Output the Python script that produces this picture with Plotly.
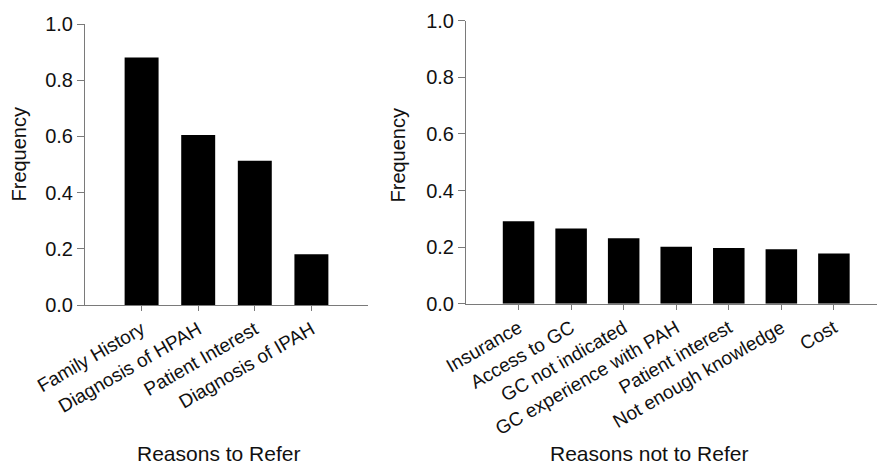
import plotly.graph_objects as go
from plotly.subplots import make_subplots

# Survey results: how often each reason was chosen
refer_reasons = ["Family History", "Diagnosis of HPAH", "Patient Interest", "Diagnosis of IPAH"]
refer_freq = [0.881, 0.605, 0.513, 0.181]

no_refer_reasons = ["Insurance", "Access to GC", "GC not indicated", "GC experience with PAH",
                    "Patient interest", "Not enough knowledge", "Cost"]
no_refer_freq = [0.291, 0.266, 0.231, 0.201, 0.197, 0.192, 0.177]

y_ticks = [0.0, 0.2, 0.4, 0.6, 0.8, 1.0]
y_ticktext = ["0.0", "0.2", "0.4", "0.6", "0.8", "1.0"]

FONT = "Liberation Sans, Arial, sans-serif"
TEXT = "#111111"
AXIS = "#7a7a7a"
W, H = 877, 467

fig = make_subplots(rows=1, cols=2)

fig.add_trace(go.Bar(x=refer_reasons, y=refer_freq, width=0.6,
                     marker=dict(color="black", line=dict(width=0))), row=1, col=1)
fig.add_trace(go.Bar(x=no_refer_reasons, y=no_refer_freq, width=0.6,
                     marker=dict(color="black", line=dict(width=0))), row=1, col=2)

common_x = dict(showline=True, linecolor=AXIS, linewidth=1, ticks="outside", ticklen=5,
                tickcolor=AXIS, tickangle=-30, showgrid=False, zeroline=False,
                automargin=False,
                tickfont=dict(family=FONT, size=19, color=TEXT))
common_y = dict(showline=True, linecolor=AXIS, linewidth=1, ticks="outside", ticklen=7,
                tickcolor=AXIS, showgrid=False, zeroline=False, range=[0, 1],
                automargin=False,
                tickvals=y_ticks, ticktext=y_ticktext,
                tickfont=dict(family=FONT, size=20, color=TEXT))

fig.update_xaxes(common_x, row=1, col=1, range=[-1, 4],
                 domain=[85 / W, 368 / W])
fig.update_xaxes(common_x, row=1, col=2, range=[-1, 6.82],
                 domain=[466 / W, 1.0])
fig.update_yaxes(common_y, row=1, col=1, domain=[1 - 305 / H, 1 - 24 / H])
fig.update_yaxes(common_y, row=1, col=2, domain=[1 - 303.7 / H, 1 - 20.7 / H])

# Vertical "Frequency" titles beside each value axis
for cx, cy in [(18.5, 154), (397.5, 155)]:
    fig.add_annotation(text="Frequency", x=cx / W, y=1 - cy / H, xref="paper", yref="paper",
                       xanchor="center", yanchor="middle", textangle=-90, showarrow=False,
                       font=dict(family=FONT, size=20, color=TEXT))

# Category-axis titles placed below the slanted labels
for text, cx in [("Reasons to Refer", 218), ("Reasons not to Refer", 649)]:
    fig.add_annotation(text=text, x=cx / W, y=1 - 453 / H, xref="paper", yref="paper",
                       xanchor="center", yanchor="middle", showarrow=False,
                       font=dict(family=FONT, size=21, color=TEXT))

fig.update_layout(width=W, height=H, margin=dict(l=0, r=0, t=0, b=0),
                  paper_bgcolor="white", plot_bgcolor="white", showlegend=False,
                  bargap=0.4)

fig.write_html("out.html")
